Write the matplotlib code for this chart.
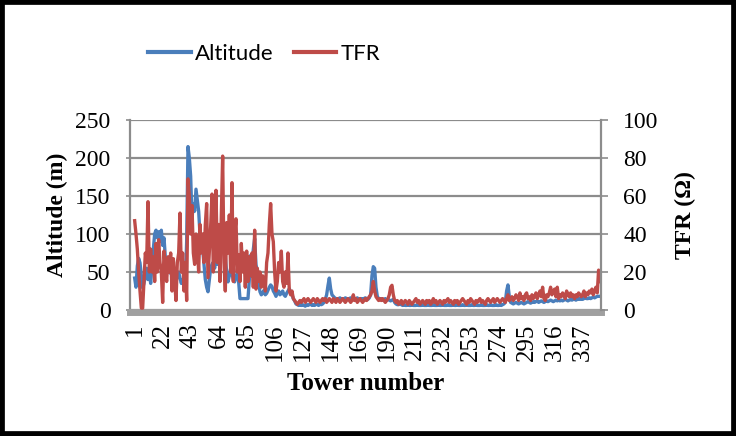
import matplotlib
matplotlib.use("Agg")
import matplotlib.pyplot as plt
from matplotlib.patches import Rectangle
from matplotlib.lines import Line2D

altitude = [
    42, 30, 58, 68, 62, 45, 29, 35, 45, 55,
    40, 50, 35, 60, 80, 100, 105, 95, 103, 90,
    105, 85, 95, 70, 65, 55, 60, 48, 52, 45,
    40, 37, 45, 50, 42, 35, 40, 30, 35, 90,
    215, 200, 176, 120, 140, 130, 159, 145, 130, 100,
    94, 80, 60, 40, 30, 24, 40, 55, 60, 63,
    55, 70, 60, 80, 90, 100, 107, 95, 70, 50,
    37, 45, 55, 48, 40, 37, 45, 48, 37, 15,
    15, 15, 15, 15, 15, 15, 40, 72, 60, 80,
    94, 60, 50, 35, 24, 20, 22, 26, 20, 22,
    26, 30, 33, 31, 25, 22, 18, 22, 25, 20,
    22, 25, 20, 18, 22, 25, 28, 24, 20, 15,
    12, 8, 7, 6, 7, 6, 7, 6, 5, 7,
    6, 7, 8, 6, 7, 6, 8, 7, 6, 8,
    7, 8, 10, 14, 20, 32, 42, 28, 20, 18,
    16, 15, 14, 15, 16, 14, 15, 14, 16, 15,
    14, 15, 16, 14, 15, 14, 15, 16, 14, 15,
    15, 14, 15, 16, 15, 14, 16, 20, 45, 57,
    55, 30, 18, 15, 14, 15, 13, 14, 15, 13,
    14, 13, 12, 13, 14, 10, 8, 7, 7, 8,
    7, 6, 7, 6, 6, 7, 6, 6, 7, 6,
    6, 6, 7, 6, 6, 6, 7, 6, 6, 6,
    7, 6, 6, 6, 7, 6, 6, 6, 7, 6,
    6, 7, 6, 6, 6, 7, 6, 6, 6, 7,
    6, 6, 7, 6, 6, 6, 7, 6, 6, 7,
    6, 6, 6, 7, 6, 6, 7, 6, 6, 6,
    7, 6, 6, 6, 7, 6, 6, 7, 6, 6,
    6, 7, 6, 6, 7, 6, 7, 8, 10, 25,
    33, 18, 10, 9, 8, 9, 10, 9, 8, 9,
    10, 9, 8, 9, 10, 11, 10, 9, 10, 11,
    10, 11, 12, 10, 11, 12, 11, 10, 11, 12,
    11, 12, 13, 12, 11, 12, 13, 12, 13, 12,
    13, 12, 13, 14, 13, 12, 13, 14, 13, 14,
    14, 13, 14, 15, 14, 15, 14, 15, 16, 15,
    15, 16, 15, 16, 17, 16, 17, 18, 18, 18,
]

tfr = [
    47, 40, 32, 20, 10, 1, 1, 15, 30, 25,
    57, 20, 32, 20, 28, 15, 35, 20, 37, 25,
    20, 4, 31, 22, 15, 28, 20, 30, 10, 27,
    15, 5, 25, 30, 51, 20, 30, 10, 25, 5,
    69, 60, 40, 55, 30, 24, 40, 34, 20, 45,
    30, 40, 25, 45, 56, 17, 30, 44, 61, 20,
    40, 63, 25, 45, 15, 50, 81, 25, 10, 46,
    30, 50, 20, 67, 15, 40, 48, 20, 29, 15,
    35, 20, 30, 12, 31, 15, 28, 18, 30, 12,
    42, 11, 22, 15, 20, 12, 18, 14, 10, 25,
    30, 45, 56, 40, 36, 20, 10, 15, 25, 20,
    31, 15, 12, 20, 14, 30, 10, 8, 10, 6,
    5, 4, 3, 4, 5, 4, 5, 6, 4, 5,
    6, 5, 4, 5, 6, 5, 4, 6, 5, 4,
    5, 6, 5, 6, 4, 5, 6, 5, 4, 6,
    5, 4, 6, 5, 4, 5, 6, 5, 4, 5,
    6, 5, 4, 5, 8, 5, 6, 4, 5, 6,
    5, 4, 5, 6, 5, 6, 7, 8, 10, 15,
    10, 7, 6, 5, 6, 5, 6, 5, 4, 5,
    6, 8, 12, 13, 8, 5, 4, 5, 3, 4,
    5, 3, 4, 5, 4, 3, 5, 4, 3, 4,
    5, 6, 4, 5, 3, 4, 5, 4, 3, 5,
    4, 5, 3, 4, 6, 4, 5, 3, 4, 5,
    4, 3, 5, 4, 5, 6, 4, 5, 4, 3,
    5, 4, 5, 3, 4, 5, 6, 5, 4, 3,
    5, 4, 6, 5, 4, 3, 5, 4, 5, 6,
    4, 5, 4, 3, 5, 6, 5, 4, 5, 6,
    4, 5, 6, 5, 4, 5, 6, 5, 4, 6,
    8, 5, 6, 7, 5, 6, 8, 7, 5, 9,
    6, 7, 5, 8, 9, 6, 7, 5, 8, 6,
    7, 9, 6, 8, 10, 7, 12, 6, 5, 8,
    7, 9, 12, 8, 10, 11, 7, 12, 6, 8,
    7, 9, 8, 6, 10, 8, 7, 9, 7, 8,
    6, 8, 7, 9, 8, 7, 8, 10, 7, 9,
    8, 10, 9, 11, 8, 10, 12, 9, 21, 15,
]

towers = list(range(1, len(altitude) + 1))
xtick_labels = [1, 22, 43, 64, 85, 106, 127, 148, 169, 190, 211, 232, 253, 274, 295, 316, 337]
alt_ticks = [0, 50, 100, 150, 200, 250]
tfr_ticks = [0, 20, 40, 60, 80, 100]

BLUE = "#4A7EBB"
RED = "#BE4B48"
GRID = "#8C8C8C"
serif = "Liberation Serif"

plt.rcParams["font.family"] = serif
plt.rcParams["font.size"] = 17

fig = plt.figure(figsize=(7.36, 4.36), dpi=100)
fig.patch.set_facecolor("white")
ax = fig.add_axes([130 / 736, 1 - 310 / 436, 471 / 736, 190 / 436])
ax2 = ax.twinx()

ax.plot(towers, altitude, color=BLUE, lw=2.4, solid_joinstyle="round")
ax2.plot(towers, tfr, color=RED, lw=2.4, solid_joinstyle="round")

ax.set_xlim(-2.5, 350.8)
ax.set_ylim(0, 250)
ax2.set_ylim(0, 100)

ax.tick_params(axis="y", length=3, width=1.2, color=GRID, pad=11, labelsize=17)
ax2.tick_params(axis="y", length=5, width=1.2, color=GRID, pad=11, labelsize=17)
ax.tick_params(axis="x", length=0, pad=8, labelsize=18, labelrotation=90)

ax.set_yticks(alt_ticks)
ax2.set_yticks(tfr_ticks)
ax.set_xticks(xtick_labels)
ax.set_xticklabels([str(v) for v in xtick_labels])
ax.set_yticklabels([str(v) for v in alt_ticks])
ax2.set_yticklabels([str(v) for v in tfr_ticks])

ax.grid(axis="y", color=GRID, lw=1.6)
ax.set_axisbelow(True)

for a in (ax, ax2):
    for s in a.spines.values():
        s.set_visible(False)
ax.spines["left"].set_visible(True)
ax.spines["left"].set_color(GRID)
ax.spines["left"].set_linewidth(1.6)
ax2.spines["right"].set_visible(True)
ax2.spines["right"].set_color(GRID)
ax2.spines["right"].set_linewidth(1.6)
ax.spines["bottom"].set_visible(True)
ax.spines["bottom"].set_color("#A0A0A0")
ax.spines["bottom"].set_linewidth(5.0)
ax.spines["bottom"].set_position(("outward", 1.5))

ax.set_ylabel("Altitude (m)", fontsize=17, fontweight="bold", labelpad=5)
ax2.set_ylabel("TFR (Ω)", fontsize=17, fontweight="bold", labelpad=12)
ax.set_xlabel("Tower number", fontsize=18, fontweight="bold", labelpad=8)

handles = [Line2D([0], [0], color=BLUE, lw=3), Line2D([0], [0], color=RED, lw=3)]
fig.legend(handles, ["Altitude", "TFR"], loc="center", bbox_to_anchor=(0.359, 1 - 54 / 436),
           ncol=2, frameon=False,
           prop={"family": "Lato", "size": 16},
           handlelength=1.9, handletextpad=0.2, columnspacing=0.9)

fig.patches.append(Rectangle((0, 0), 1, 1, transform=fig.transFigure, fill=False,
                             edgecolor="black", linewidth=7, zorder=10))

fig.savefig("out.png", dpi=100)
